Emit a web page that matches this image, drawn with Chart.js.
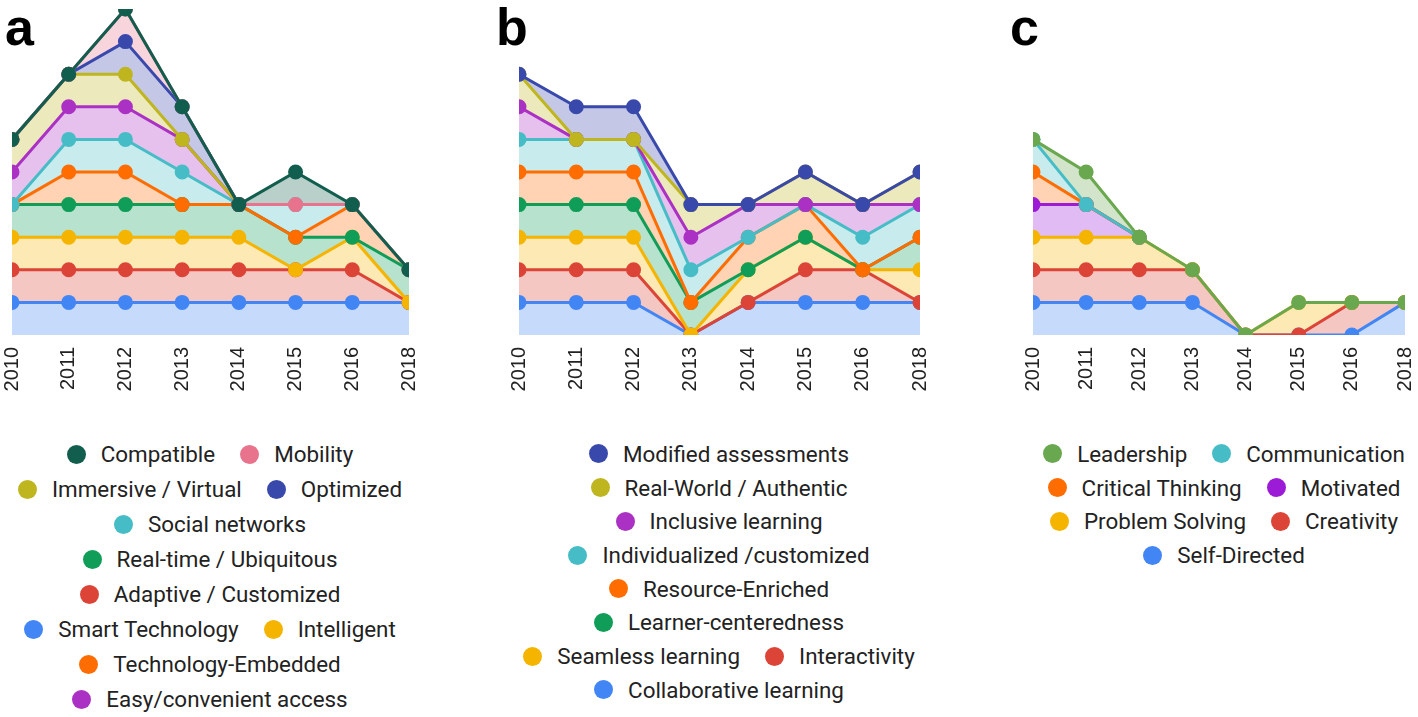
<!DOCTYPE html>
<html>
<head>
<meta charset="utf-8">
<script src="https://cdn.jsdelivr.net/npm/chart.js@4/dist/chart.umd.min.js"></script>
<style>
  body { margin: 0; background: #fff; width: 1418px; height: 717px; position: relative; overflow: hidden; font-family: Roboto, "Noto Sans", sans-serif; }
  canvas { position: absolute; top: 0; }
  .letter { position: absolute; top: 1px; font: bold 52px "Liberation Sans", Arial, sans-serif; color: #000; line-height: 52px; }
  .legend { position: absolute; width: 520px; color: #222; font-size: 22.4px; }
  .row { display: flex; justify-content: center; align-items: center; white-space: nowrap; }
  .item { display: flex; align-items: center; margin: 0 12.5px; }
  .dot { width: 19px; height: 19px; border-radius: 50%; margin-right: 15px; flex: none; }
</style>
</head>
<body>
<div class="letter" style="left:5px">a</div>
<div class="letter" style="left:496px">b</div>
<div class="letter" style="left:1010px">c</div>

<canvas id="chartA" width="420" height="400" style="left:0px"></canvas>
<canvas id="chartB" width="440" height="400" style="left:500px"></canvas>
<canvas id="chartC" width="403" height="400" style="left:1015px"></canvas>

<div class="legend" id="legendA"></div>
<div class="legend" id="legendB"></div>
<div class="legend" id="legendC"></div>

<script>
const years = ['2010', '2011', '2012', '2013', '2014', '2015', '2016', '2018'];

// a - technology features (bottom to top)
const smartTechnology = [1, 1, 1, 1, 1, 1, 1, 1];
const adaptive = [2, 2, 2, 2, 2, 2, 2, 1];
const intelligent = [3, 3, 3, 3, 3, 2, 3, 1];
const realTime = [4, 4, 4, 4, 4, 3, 3, 2];
const techEmbedded = [4, 5, 5, 4, 4, 3, 4, 2];
const socialNetworks = [4, 6, 6, 5, 4, 4, 4, 2];
const easyAccess = [5, 7, 7, 6, 4, null, null, null];
const immersive = [6, 8, 8, 6, 4, null, null, null];
const optimized = [6, 8, 9, 7, 4, null, null, null];
const mobility = [6, 8, 10, 7, 4, 4, 4, 2];
const compatible = [6, 8, 10, 7, 4, 5, 4, 2];

// b - pedagogy features
const collaborative = [1, 1, 1, 0, 1, 1, 1, 1];
const interactivity = [2, 2, 2, 0, 1, 2, 2, 1];
const seamless = [3, 3, 3, 0, 2, 3, 2, 2];
const learnerCentered = [4, 4, 4, 1, 2, 3, 2, 3];
const resourceEnriched = [5, 5, 5, 1, 3, 4, 2, 3];
const individualized = [6, 6, 6, 2, 3, 4, 3, 4];
const inclusive = [7, 6, 6, 3, 4, 4, 4, 4];
const realWorld = [8, 6, 6, 4, 4, 5, 4, 5];
const modifiedAssessments = [8, 7, 7, 4, 4, 5, 4, 5];

// c - learner skills
const selfDirected = [1, 1, 1, 1, 0, 0, 0, 1];
const creativity = [2, 2, 2, 2, 0, 0, 1, 1];
const problemSolving = [3, 3, 3, 2, 0, 1, 1, 1];
const motivated = [4, 4, 3, null, null, null, null, null];
const criticalThinking = [5, 4, 3, null, null, null, null, null];
const communication = [6, 4, 3, null, null, null, null, null];
const leadership = [6, 5, 3, 2, 0, 1, 1, 1];

const seriesA = [
  ['Smart Technology', smartTechnology, '#4285F4'],
  ['Adaptive / Customized', adaptive, '#DB4437'],
  ['Intelligent', intelligent, '#F4B400'],
  ['Real-time / Ubiquitous', realTime, '#0F9D58'],
  ['Technology-Embedded', techEmbedded, '#FF6D01'],
  ['Social networks', socialNetworks, '#46BDC6'],
  ['Easy/convenient access', easyAccess, '#AB30C4'],
  ['Immersive / Virtual', immersive, '#BFB51F'],
  ['Optimized', optimized, '#3949AB'],
  ['Mobility', mobility, '#E8738C'],
  ['Compatible', compatible, '#115E4E']
];
const seriesB = [
  ['Collaborative learning', collaborative, '#4285F4'],
  ['Interactivity', interactivity, '#DB4437'],
  ['Seamless learning', seamless, '#F4B400'],
  ['Learner-centeredness', learnerCentered, '#0F9D58'],
  ['Resource-Enriched', resourceEnriched, '#FF6D01'],
  ['Individualized /customized', individualized, '#46BDC6'],
  ['Inclusive learning', inclusive, '#AB30C4'],
  ['Real-World / Authentic', realWorld, '#BFB51F'],
  ['Modified assessments', modifiedAssessments, '#3949AB']
];
const seriesC = [
  ['Self-Directed', selfDirected, '#4285F4'],
  ['Creativity', creativity, '#DB4437'],
  ['Problem Solving', problemSolving, '#F4B400'],
  ['Motivated', motivated, '#9C1BD6'],
  ['Critical Thinking', criticalThinking, '#FF6D01'],
  ['Communication', communication, '#46BDC6'],
  ['Leadership', leadership, '#6AA84F']
];

const legendRowsA = [['Compatible', 'Mobility'], ['Immersive / Virtual', 'Optimized'], ['Social networks'],
  ['Real-time / Ubiquitous'], ['Adaptive / Customized'], ['Smart Technology', 'Intelligent'],
  ['Technology-Embedded'], ['Easy/convenient access']];
const legendRowsB = [['Modified assessments'], ['Real-World / Authentic'], ['Inclusive learning'],
  ['Individualized /customized'], ['Resource-Enriched'], ['Learner-centeredness'],
  ['Seamless learning', 'Interactivity'], ['Collaborative learning']];
const legendRowsC = [['Leadership', 'Communication'], ['Critical Thinking', 'Motivated'],
  ['Problem Solving', 'Creativity'], ['Self-Directed']];

// solid pastel of a colour (colour at 30% over white)
function pastel(hex) {
  const n = parseInt(hex.slice(1), 16);
  const mix = c => Math.round(255 - 0.3 * (255 - c));
  return 'rgb(' + mix(n >> 16) + ',' + mix((n >> 8) & 255) + ',' + mix(n & 255) + ')';
}

function makeChart(id, series, pad) {
  // lines: index 0 is drawn last, so the top series goes first
  const lines = series.map(s => ({
    label: s[0],
    data: s[1],
    borderColor: s[2],
    pointBackgroundColor: s[2],
    pointBorderColor: s[2],
    pointRadius: 6,
    borderWidth: 3,
    fill: false,
    tension: 0,
    clip: 0
  })).reverse();
  // areas: painted from the last index down, so the top series' area is painted first
  const areas = series.map(s => ({
    label: s[0] + ' area',
    data: s[1],
    borderWidth: 0,
    borderColor: 'rgba(0,0,0,0)',
    backgroundColor: pastel(s[2]),
    pointRadius: 0,
    fill: 'origin',
    tension: 0,
    clip: 0
  }));

  new Chart(document.getElementById(id), {
    type: 'line',
    data: { labels: years, datasets: lines.concat(areas) },
    options: {
      responsive: false,
      animation: false,
      layout: { padding: pad },
      plugins: {
        legend: { display: false },
        tooltip: { enabled: false },
        filler: { drawTime: 'beforeDatasetsDraw' }
      },
      scales: {
        y: { display: false, min: 0, max: 10 },
        x: {
          offset: false,
          grid: { display: false, drawTicks: false },
          border: { display: false },
          ticks: {
            autoSkip: false, minRotation: 90, maxRotation: 90, padding: 12, color: '#222',
            font: { family: '"Liberation Sans", Arial, sans-serif', size: 20 }
          },
          afterFit: s => { s.height = 65; s.paddingLeft = 0; s.paddingRight = 0; }
        }
      }
    }
  });
}

function makeLegend(id, rows, series, center, top, step) {
  const box = document.getElementById(id);
  box.style.left = (center - 260) + 'px';
  box.style.top = (top - step / 2) + 'px';
  rows.forEach(names => {
    const row = document.createElement('div');
    row.className = 'row';
    row.style.height = step + 'px';
    names.forEach(name => {
      const s = series.find(x => x[0] === name);
      const item = document.createElement('div');
      item.className = 'item';
      item.innerHTML = '<span class="dot" style="background:' + s[2] + '"></span><span>' + name + '</span>';
      row.appendChild(item);
    });
    box.appendChild(row);
  });
}

makeChart('chartA', seriesA, { left: 12, right: 11, top: 4, bottom: 0 });
makeChart('chartB', seriesB, { left: 19, right: 20, top: 4, bottom: 0 });
makeChart('chartC', seriesC, { left: 18, right: 13, top: 4, bottom: 0 });

makeLegend('legendA', legendRowsA, seriesA, 210, 454, 35);
makeLegend('legendB', legendRowsB, seriesB, 719, 454, 33.7);
makeLegend('legendC', legendRowsC, seriesC, 1224, 454, 33.7);
</script>
</body>
</html>
